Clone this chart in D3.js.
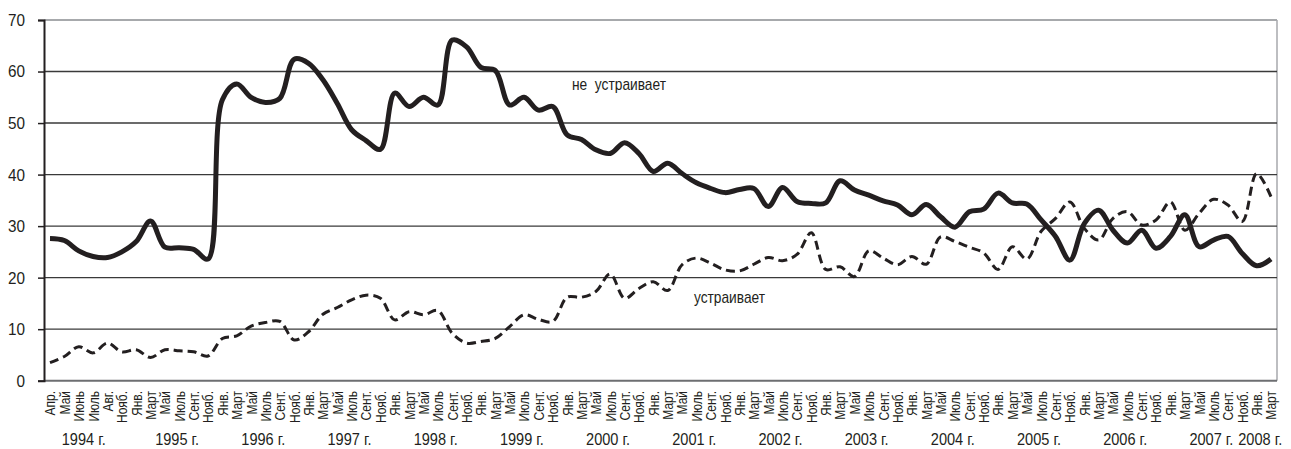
<!DOCTYPE html>
<html><head><meta charset="utf-8">
<script src="https://cdn.jsdelivr.net/npm/d3@7"></script>
<style>
body{margin:0;background:#fff;}
text{font-family:"Liberation Sans",Arial,sans-serif;fill:#231f20;}
</style></head>
<body><svg id="c" width="1291" height="449"></svg>
<script>
const monthLabels = ["Апр.","Май","Июнь","Июль","Авг.","Нояб.",
"Янв.","Март","Май","Июль","Сент.","Нояб.",
"Янв.","Март","Май","Июль","Сент.","Нояб.",
"Янв.","Март","Май","Июль","Сент.","Нояб.",
"Янв.","Март","Май","Июль","Сент.","Нояб.",
"Янв.","Март","Май","Июль","Сент.","Нояб.",
"Янв.","Март","Май","Июль","Сент.","Нояб.",
"Янв.","Март","Май","Июль","Сент.","Нояб.",
"Янв.","Март","Май","Июль","Сент.","Нояб.",
"Янв.","Март","Май","Июль","Сент.","Нояб.",
"Янв.","Март","Май","Июль","Сент.","Нояб.",
"Янв.","Март","Май","Июль","Сент.","Нояб.",
"Янв.","Март","Май","Июль","Сент.","Нояб.",
"Янв.","Март","Май","Июль","Сент.","Нояб.",
"Янв.","Март"];
const years = ["1994 г.","1995 г.","1996 г.","1997 г.","1998 г.","1999 г.","2000 г.","2001 г.","2002 г.","2003 г.","2004 г.","2005 г.","2006 г.","2007 г.","2008 г."];
const yearLabelAt = [2.35,8.85,14.85,20.85,26.85,32.85,38.85,44.85,50.85,56.85,62.85,68.85,74.85,80.85,84.25];
const yTicks = [0,10,20,30,40,50,60,70];
const notSatisfied = [27.6,27.2,25.2,24.1,23.9,25.0,27.0,31.0,25.9,25.8,25.5,23.6,
54.5,57.6,55.0,54.0,54.8,62.4,61.6,58.4,53.8,48.7,46.6,44.9,
55.8,53.2,55.0,53.5,66.1,64.8,60.8,60.2,53.5,55.0,52.5,53.2,
47.7,46.8,44.8,44.1,46.2,44.1,40.6,42.2,40.2,38.4,37.3,36.5,
37.1,37.3,33.8,37.5,34.8,34.4,34.5,38.8,37.0,36.0,34.9,34.1,
32.2,34.2,31.8,29.8,32.8,33.3,36.4,34.5,34.3,31.2,28.0,23.4,
30.5,33.1,29.2,26.7,29.2,25.7,28.0,32.2,26.0,27.3,28.0,24.7,22.3,23.6];
const satisfied = [3.5,4.7,6.6,5.4,7.3,5.6,6.0,4.5,6.0,5.8,5.6,4.8,
8.2,8.7,10.6,11.3,11.5,7.9,9.5,12.9,14.2,15.7,16.6,16.0,
11.8,13.4,12.8,13.6,9.2,7.3,7.6,8.2,10.5,12.8,11.9,11.5,
16.2,16.2,17.3,20.7,16.0,17.9,19.2,17.5,22.5,23.8,22.8,21.5,
21.3,22.6,23.9,23.3,24.5,28.7,21.6,22.1,20.2,25.2,23.8,22.5,
24.1,22.6,27.9,27.0,25.9,24.8,21.6,26.0,23.6,29.0,31.5,34.7,
29.6,27.3,31.5,32.8,30.2,31.2,34.7,29.2,32.5,35.2,34.1,30.9,40.2,35.7];
const seriesLabels = ["не  устраивает","устраивает"];

const svg = d3.select("#c");
const L=44, R=1277, T=20, B=380.7;
const x = d3.scaleLinear().domain([0, monthLabels.length-1]).range([50, 1271]);
const y = d3.scaleLinear().domain([0,70]).range([B, T]);

// condense a text selection so that the reference string gets the target width
function fitTo(sel, refIndex, target){
  const nodes = sel.nodes();
  const k = target / nodes[refIndex].getComputedTextLength();
  sel.each(function(){
    const w = this.getComputedTextLength();
    d3.select(this).attr("textLength", w*k).attr("lengthAdjust","spacingAndGlyphs");
  });
}

// frame (top & right, grey)
svg.append("line").attr("x1",L).attr("x2",R).attr("y1",T).attr("y2",T).attr("stroke","#a7a9ac").attr("stroke-width",2);
svg.append("line").attr("x1",R).attr("x2",R).attr("y1",T).attr("y2",B).attr("stroke","#a7a9ac").attr("stroke-width",1.5);
// gridlines
svg.append("g").selectAll("line").data(yTicks.filter(d=>d>0&&d<70)).join("line")
  .attr("x1",L).attr("x2",R).attr("y1",d=>y(d)).attr("y2",d=>y(d))
  .attr("stroke","#3a3a3a").attr("stroke-width",1.4);
// bottom axis
svg.append("line").attr("x1",L).attr("x2",R).attr("y1",B).attr("y2",B).attr("stroke","#6d6e71").attr("stroke-width",2);
// y axis
const yAxis = d3.axisLeft(y).tickValues(yTicks).tickSize(6).tickPadding(13);
const ga = svg.append("g").attr("transform",`translate(${L},0)`).call(yAxis);
ga.select(".domain").attr("stroke","#231f20").attr("stroke-width",2);
ga.selectAll(".tick line").attr("stroke","#231f20").attr("stroke-width",1.5);
const yt = ga.selectAll(".tick text").attr("font-size",17).attr("fill","#231f20")
  .style("font-family",'"Liberation Sans",Arial,sans-serif');
fitTo(yt, 7, 17);

// month labels
const ml = svg.append("g").selectAll("text").data(monthLabels).join("text")
  .attr("transform",(d,i)=>`translate(${x(i)},391) rotate(-90)`)
  .attr("text-anchor","end").attr("dy","0.36em").attr("font-size",15).text(d=>d);
fitTo(ml, 5, 32);
// year labels
const yl = svg.append("g").selectAll("text").data(years).join("text")
  .attr("x",(d,i)=>x(yearLabelAt[i])).attr("y",445).attr("text-anchor","middle")
  .attr("font-size",16.5).text(d=>d);
fitTo(yl, 0, 44);

const line = d3.line().x((d,i)=>x(i)).y(d=>y(d)).curve(d3.curveCatmullRom.alpha(0.5));
svg.append("path").attr("d",line(satisfied)).attr("fill","none").attr("stroke","#231f20")
  .attr("stroke-width",3).attr("stroke-dasharray","9,5");
svg.append("path").attr("d",line(notSatisfied)).attr("fill","none").attr("stroke","#231f20")
  .attr("stroke-width",5).attr("stroke-linejoin","round");

const s1 = svg.append("text").attr("x",572).attr("y",90).attr("font-size",17).style("white-space","pre")
  .text(seriesLabels[0]);
fitTo(s1, 0, 94);
const s2 = svg.append("text").attr("x",694).attr("y",303).attr("font-size",17)
  .text(seriesLabels[1]);
fitTo(s2, 0, 71);
</script></body></html>
